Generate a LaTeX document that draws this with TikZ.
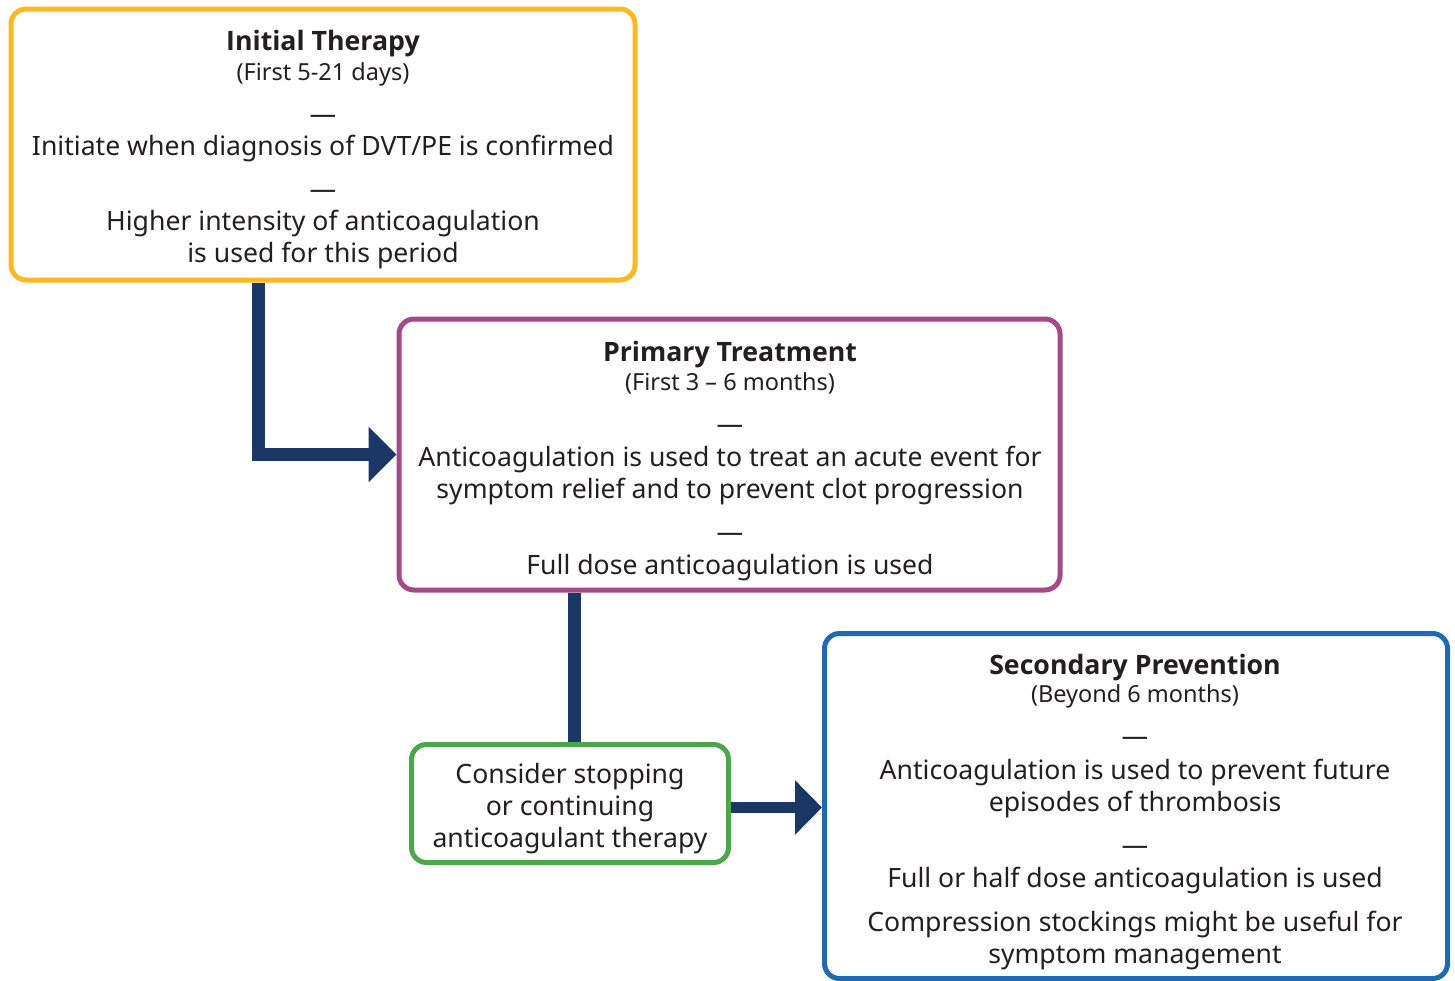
\documentclass[tikz,border=0pt]{standalone}
\usepackage{fontspec}
\setmainfont{Noto Sans}
\newfontfamily\headfont{Open Sans}
\usetikzlibrary{arrows.meta}
\definecolor{ink}{HTML}{231F20}
\definecolor{navy}{HTML}{1B3766}
\definecolor{amber}{HTML}{FDB924}
\definecolor{plum}{HTML}{A4498A}
\definecolor{leaf}{HTML}{4CA64A}
\definecolor{azure}{HTML}{1F6BB3}
\begin{document}
\begin{tikzpicture}[x=1pt,y=-1pt,
  panel/.style={draw=#1, line width=5pt, rounded corners=15pt, fill=white, inner sep=0pt},
  ln/.style={anchor=base, text=ink, inner sep=0pt, font=\fontsize{26.6}{32}\selectfont},
  ttl/.style={ln, font=\headfont\bfseries\fontsize{26.7}{32}\selectfont},
  sub/.style={ln, font=\fontsize{23.5}{28}\selectfont},
  flow/.style={draw=navy, line width=13pt},
  bighead/.style={-{Triangle[length=28pt,width=54pt]}}
]
\useasboundingbox (0,0) rectangle (1455,980);

% panels
\node[panel=amber, minimum width=624pt, minimum height=271pt] (initial) at (323,144.5) {};
\node[panel=plum, minimum width=661pt, minimum height=271pt] (primary) at (729.5,454.5) {};
\node[panel=leaf, minimum width=317pt, minimum height=118pt] (decide) at (570,803.5) {};
\node[panel=azure, minimum width=623pt, minimum height=345pt] (second) at (1136,806) {};

% connectors
\draw[flow, bighead] ([xshift=-64.5pt]initial.south) |- (primary.west);
\coordinate (drop) at ([xshift=-155.5pt]primary.south);
\draw[flow] (drop) -- (drop |- decide.north);
\coordinate (out) at ([yshift=-4pt]decide.east);
\draw[flow, line width=11.5pt, -{Triangle[length=27pt,width=53pt]}] (out) -- (out -| second.west);

% Initial Therapy text
\node[ttl] (i1) at (323,50) {Initial Therapy};
\node[sub] (i2) at (323,80) {(First 5-21 days)};
\node[ln]  (i3) at (323,123) {—};
\node[ln]  (i4) at (323,155) {Initiate when diagnosis of DVT/PE is confirmed};
\node[ln]  (i5) at (323,198) {—};
\node[ln]  (i6) at (323,230) {Higher intensity of anticoagulation};
\node[ln]  (i7) at (323,262) {is used for this period};

% Primary Treatment text
\node[ttl] (p1) at (730,361) {Primary Treatment};
\node[sub] (p2) at (730,390) {(First 3 – 6 months)};
\node[ln]  (p3) at (730,433) {—};
\node[ln]  (p4) at (730,466) {Anticoagulation is used to treat an acute event for};
\node[ln]  (p5) at (730,498) {symptom relief and to prevent clot progression};
\node[ln]  (p6) at (730,541) {—};
\node[ln]  (p7) at (730,574) {Full dose anticoagulation is used};

% decision text
\node[ln] (g1) at (570,783) {Consider stopping};
\node[ln] (g2) at (570,815) {or continuing};
\node[ln] (g3) at (570,847) {anticoagulant therapy};

% Secondary Prevention text
\node[ttl] (s1) at (1135,674) {Secondary Prevention};
\node[sub] (s2) at (1135,702) {(Beyond 6 months)};
\node[ln]  (s3) at (1135,745) {—};
\node[ln]  (s4) at (1135,779) {Anticoagulation is used to prevent future};
\node[ln]  (s5) at (1135,811) {episodes of thrombosis};
\node[ln]  (s6) at (1135,854) {—};
\node[ln]  (s7) at (1135,887) {Full or half dose anticoagulation is used};
\node[ln]  (s8) at (1135,931) {Compression stockings might be useful for};
\node[ln]  (s9) at (1135,963) {symptom management};
\end{tikzpicture}
\end{document}
